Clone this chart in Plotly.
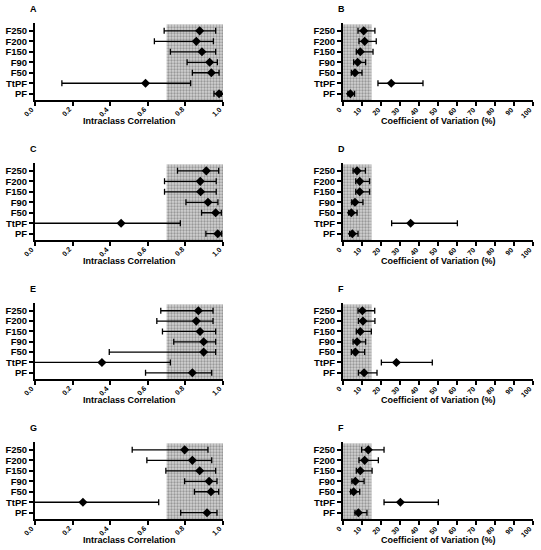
import plotly.graph_objects as go

# rows top to bottom
categories = ["F250", "F200", "F150", "F90", "F50", "TtPF", "PF"]
panel_letters = ["A", "B", "C", "D", "E", "F", "G", "F"]

icc_a_mean = [0.876, 0.858, 0.888, 0.929, 0.938, 0.588, 0.979]
icc_a_lo = [0.687, 0.635, 0.720, 0.809, 0.837, 0.143, 0.952]
icc_a_hi = [0.961, 0.949, 0.961, 0.970, 0.979, 0.828, 0.991]

cv_b_mean = [10.9, 11.4, 9.1, 7.7, 6.3, 25.4, 3.9]
cv_b_lo = [7.9, 8.4, 7.0, 5.6, 4.4, 18.4, 2.6]
cv_b_hi = [16.8, 17.5, 15.8, 11.9, 10.0, 42.1, 6.1]

icc_c_mean = [0.911, 0.879, 0.881, 0.920, 0.961, 0.458, 0.972]
icc_c_lo = [0.758, 0.689, 0.689, 0.803, 0.886, -0.05, 0.909]
icc_c_hi = [0.977, 0.964, 0.964, 0.973, 0.991, 0.773, 0.993]

cv_d_mean = [7.4, 8.8, 8.8, 6.3, 4.4, 35.6, 4.9]
cv_d_lo = [5.3, 6.7, 6.7, 4.6, 3.0, 25.6, 3.5]
cv_d_hi = [11.8, 14.0, 14.0, 10.5, 7.4, 60.2, 7.9]

icc_e_mean = [0.869, 0.858, 0.878, 0.897, 0.897, 0.356, 0.837]
icc_e_lo = [0.669, 0.648, 0.678, 0.738, 0.395, -0.05, 0.588]
icc_e_hi = [0.947, 0.947, 0.961, 0.961, 0.961, 0.720, 0.940]

cv_f_mean = [10.2, 10.5, 9.1, 7.4, 6.5, 28.1, 11.1]
cv_f_lo = [7.9, 8.1, 7.0, 5.3, 4.4, 20.2, 8.1]
cv_f_hi = [16.7, 16.8, 14.9, 11.9, 11.4, 47.0, 17.9]

icc_g_mean = [0.796, 0.837, 0.876, 0.926, 0.936, 0.255, 0.915]
icc_g_lo = [0.517, 0.595, 0.696, 0.796, 0.848, -0.05, 0.775]
icc_g_hi = [0.920, 0.940, 0.961, 0.968, 0.977, 0.658, 0.968]

cv_h_mean = [13.3, 11.4, 9.1, 6.5, 5.6, 30.2, 8.1]
cv_h_lo = [9.8, 8.4, 7.0, 4.7, 4.0, 21.6, 6.3]
cv_h_hi = [21.6, 18.6, 15.3, 11.1, 8.8, 50.2, 12.6]

icc_band = [0.7, 1.0]
cv_band = [0, 15]
icc_ticks = [0.0, 0.2, 0.4, 0.6, 0.8, 1.0]
cv_ticks = [0, 10, 20, 30, 40, 50, 60, 70, 80, 90, 100]
axis_titles = ["Intraclass Correlation", "Coefficient of Variation (%)"]

W, H = 541, 550
col_px = [(35, 223), (343, 533)]
row_px = [(23, 100), (163, 240), (303, 379), (442, 519)]
Y_RANGE = [-0.6, 6.75]

panels = [
    (icc_a_mean, icc_a_lo, icc_a_hi),
    (cv_b_mean, cv_b_lo, cv_b_hi),
    (icc_c_mean, icc_c_lo, icc_c_hi),
    (cv_d_mean, cv_d_lo, cv_d_hi),
    (icc_e_mean, icc_e_lo, icc_e_hi),
    (cv_f_mean, cv_f_lo, cv_f_hi),
    (icc_g_mean, icc_g_lo, icc_g_hi),
    (cv_h_mean, cv_h_lo, cv_h_hi),
]

FONT = "Liberation Sans"
ypos = list(range(len(categories) - 1, -1, -1))

fig = go.Figure()
layout = {}
for i, (mean, lo, hi) in enumerate(panels):
    r, c = divmod(i, 2)
    n = i + 1
    xa = "x" if n == 1 else f"x{n}"
    ya = "y" if n == 1 else f"y{n}"
    band = icc_band if c == 0 else cv_band
    ticks = icc_ticks if c == 0 else cv_ticks
    fig.add_trace(
        go.Scatter(
            x=[band[0], band[1], band[1], band[0], band[0]],
            y=[Y_RANGE[0], Y_RANGE[0], Y_RANGE[1] - 0.15, Y_RANGE[1] - 0.15, Y_RANGE[0]],
            fill="toself",
            mode="none",
            fillcolor="#c4c4c4",
            fillpattern=dict(shape=".", fgcolor="#5e5e5e", bgcolor="#d2d2d2",
                             size=3, solidity=0.45),
            xaxis=xa, yaxis=ya, hoverinfo="skip", showlegend=False,
        )
    )
    fig.add_trace(
        go.Scatter(
            x=mean, y=ypos, mode="markers",
            marker=dict(symbol="diamond", size=7, color="black"),
            error_x=dict(type="data", symmetric=False,
                         array=[h - m for h, m in zip(hi, mean)],
                         arrayminus=[m - l for m, l in zip(mean, lo)],
                         color="black", thickness=1.3, width=3),
            xaxis=xa, yaxis=ya, showlegend=False,
        )
    )
    x0, x1 = col_px[c]
    t, b = row_px[r]
    key = "" if n == 1 else str(n)
    layout[f"xaxis{key}"] = dict(
        domain=[x0 / W, x1 / W], anchor=ya, automargin=False,
        range=[ticks[0], ticks[-1]], tickvals=ticks, showticklabels=False,
        showgrid=False, zeroline=False,
        showline=True, linecolor="black", linewidth=2,
        ticks="outside", ticklen=4, tickwidth=1.5, tickcolor="black",
    )
    layout[f"yaxis{key}"] = dict(
        domain=[1 - b / H, 1 - t / H], anchor=xa, automargin=False,
        range=Y_RANGE, tickvals=ypos, ticktext=categories,
        showgrid=False, zeroline=False,
        showline=True, linecolor="black", linewidth=2,
        ticks="outside", ticklen=4, tickwidth=1.5, tickcolor="black",
        tickfont=dict(family=FONT, size=9.5, color="black", weight="bold"),
    )
    # slanted tick labels
    for tv in ticks:
        fig.add_annotation(
            text=f"{tv:.1f}" if c == 0 else f"{tv:d}",
            xref=xa, yref="paper", x=tv, y=1 - (b + 3) / H,
            xanchor="right", yanchor="top", xshift=3, textangle=-45,
            showarrow=False, font=dict(family=FONT, size=7, color="black", weight="bold"),
        )
    fig.add_annotation(
        text=panel_letters[i], xref="paper", yref="paper",
        x=(x0 - 2) / W, y=1 - (t - 14) / H, xanchor="center", yanchor="middle",
        showarrow=False, font=dict(family=FONT, size=9, color="black", weight="bold"),
    )
    fig.add_annotation(
        text=axis_titles[c], xref="paper", yref="paper",
        x=(x0 + x1) / 2 / W, y=1 - (b + 21) / H, xanchor="center", yanchor="middle",
        showarrow=False, font=dict(family=FONT, size=9, color="black", weight="bold"),
    )

fig.update_layout(
    **layout,
    width=W, height=H,
    margin=dict(l=0, r=0, t=0, b=0),
    paper_bgcolor="white", plot_bgcolor="white",
)
fig.write_html(
    "out.html",
    config={"displayModeBar": False},
    post_script="document.body.style.margin='0';document.body.style.overflow='hidden';",
)
